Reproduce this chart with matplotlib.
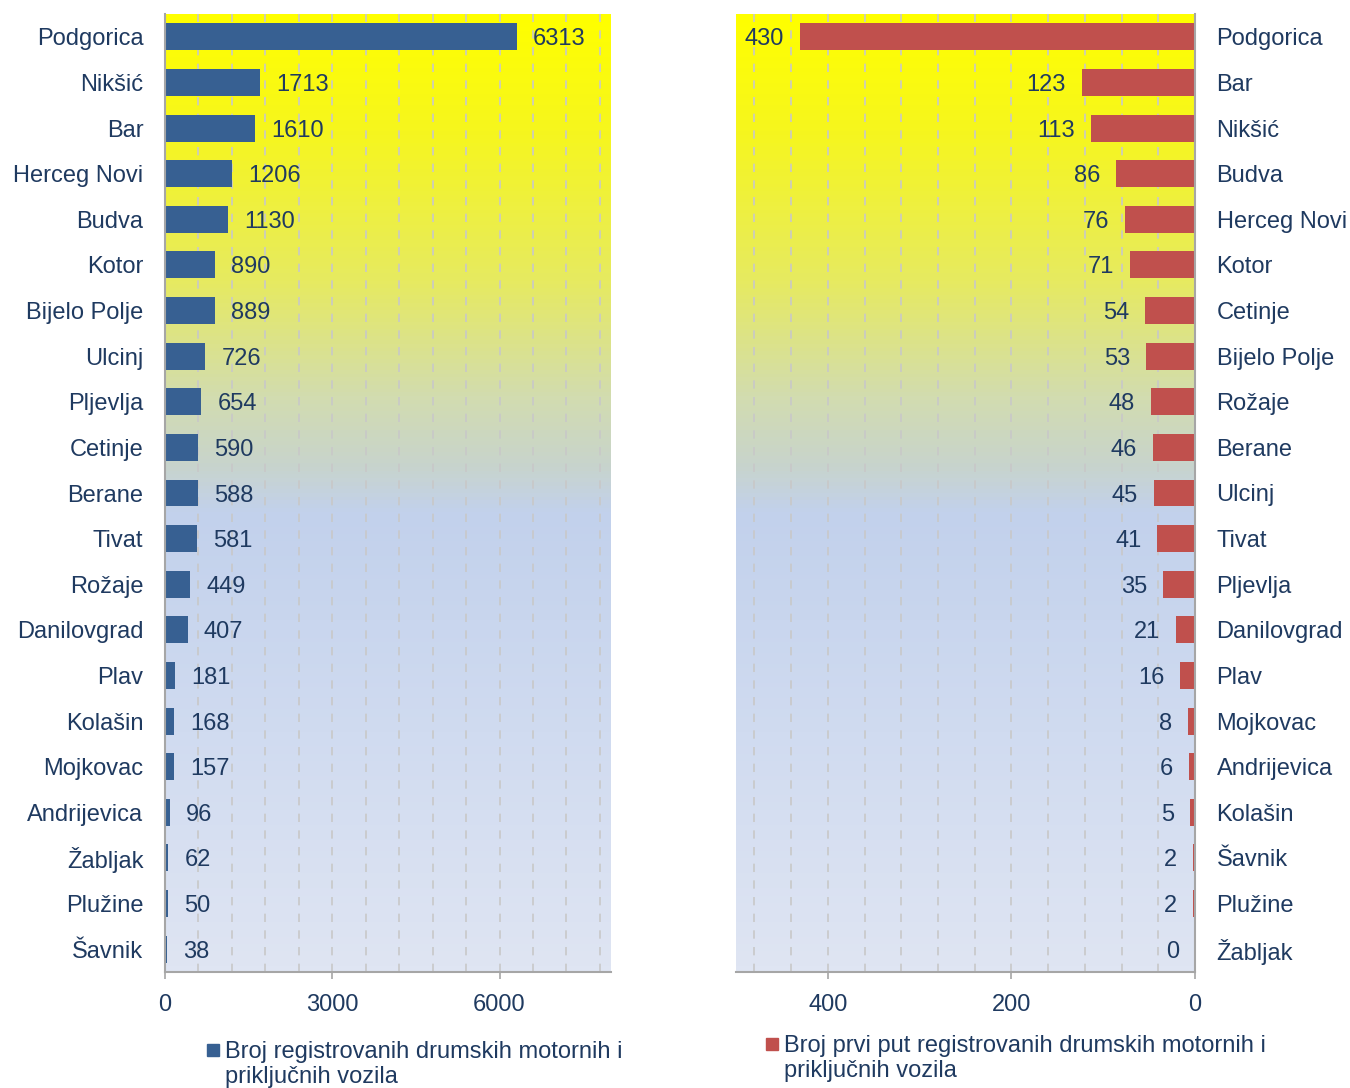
import numpy as np
import matplotlib
matplotlib.use("Agg")
import matplotlib.pyplot as plt
from matplotlib.colors import LinearSegmentedColormap
from matplotlib.ticker import MultipleLocator, FixedLocator
from matplotlib.patches import Rectangle

plt.rcParams['font.family'] = ['Liberation Sans', 'DejaVu Sans']

# ---- data ----
left_cities = ["Podgorica", "Nikšić", "Bar", "Herceg Novi", "Budva", "Kotor",
               "Bijelo Polje", "Ulcinj", "Pljevlja", "Cetinje", "Berane", "Tivat",
               "Rožaje", "Danilovgrad", "Plav", "Kolašin", "Mojkovac",
               "Andrijevica", "Žabljak", "Plužine", "Šavnik"]
left_values = [6313, 1713, 1610, 1206, 1130, 890, 889, 726, 654, 590, 588, 581,
               449, 407, 181, 168, 157, 96, 62, 50, 38]

right_cities = ["Podgorica", "Bar", "Nikšić", "Budva", "Herceg Novi", "Kotor",
                "Cetinje", "Bijelo Polje", "Rožaje", "Berane", "Ulcinj", "Tivat",
                "Pljevlja", "Danilovgrad", "Plav", "Mojkovac", "Andrijevica",
                "Kolašin", "Šavnik", "Plužine", "Žabljak"]
right_values = [430, 123, 113, 86, 76, 71, 54, 53, 48, 46, 45, 41, 35, 21, 16,
                8, 6, 5, 2, 2, 0]

left_ticks = [0, 3000, 6000]
right_ticks = [0, 200, 400]
left_legend = "Broj registrovanih drumskih motornih i\npriključnih vozila"
right_legend = "Broj prvi put registrovanih drumskih motornih i\npriključnih vozila"

# ---- style ----
TEXT = "#1F3A60"
BLUE = "#376092"
RED = "#C0504D"
SPINE = "#A6A6A6"
GRID = "#C8C8C8"
FS = 17

cmap = LinearSegmentedColormap.from_list("bg", [
    (0.00, "#FFFF00"),
    (0.12, "#F6F61E"),
    (0.28, "#E6EA62"),
    (0.40, "#D2DCB0"),
    (0.47, "#C8D4CC"),
    (0.52, "#C2D1EC"),
    (0.75, "#D0DBF0"),
    (1.00, "#DFE5F3"),
])
grad = np.linspace(0, 1, 256).reshape(-1, 1)

fig = plt.figure(figsize=(13.5, 10.88), dpi=100)
W, H = 1350, 1088
top, bot = 14, 972
axL = fig.add_axes([165 / W, 1 - bot / H, 446 / W, (bot - top) / H])
axR = fig.add_axes([736 / W, 1 - bot / H, 459 / W, (bot - top) / H])


def style(ax, cities, values, color, xmax, minor, ticks, side):
    n = len(cities)
    y = np.arange(n)
    ax.imshow(grad, cmap=cmap, extent=(0, 1, 0, 1), transform=ax.transAxes,
              aspect='auto', zorder=0, origin='upper', interpolation='bilinear')
    ax.barh(y, values, height=0.59, color=color, zorder=3)
    ax.set_ylim(n - 0.5, -0.5)
    if side == 'left':
        ax.set_xlim(0, xmax)
    else:
        ax.set_xlim(xmax, 0)
    ax.set_yticks(y)
    ax.set_yticklabels(cities, fontsize=FS, color=TEXT)
    ax.tick_params(axis='y', length=0, pad=15.5)
    if side == 'right':
        ax.yaxis.tick_right()
    for lab in ax.get_yticklabels():
        lab.set_verticalalignment('center_baseline')
    ax.xaxis.set_major_locator(FixedLocator(ticks))
    ax.xaxis.set_minor_locator(MultipleLocator(minor))
    ax.tick_params(axis='x', which='major', length=5, width=1.2, color=SPINE,
                   labelsize=FS, labelcolor=TEXT, pad=11)
    ax.tick_params(axis='x', which='minor', length=0)
    ax.grid(True, axis='x', which='both', color=GRID, linestyle=(0, (5, 5)),
            linewidth=1.2, zorder=1)
    ax.set_axisbelow(True)
    for s in ax.spines.values():
        s.set_visible(False)
    ax.spines['bottom'].set_visible(True)
    ax.spines['bottom'].set_color(SPINE)
    ax.spines['bottom'].set_linewidth(1.5)
    vs = 'left' if side == 'left' else 'right'
    ax.spines[vs].set_visible(True)
    ax.spines[vs].set_color(SPINE)
    ax.spines[vs].set_linewidth(1.5)
    ax.spines[vs].set_zorder(5)
    off = 16 if side == 'left' else -16
    ha = 'left' if side == 'left' else 'right'
    for i, v in enumerate(values):
        ax.annotate(str(v), xy=(v, i), xytext=(off, 0), textcoords='offset pixels',
                    ha=ha, va='center_baseline', fontsize=FS, color=TEXT, zorder=4)


style(axL, left_cities, left_values, BLUE, 8000, 600, left_ticks, 'left')
style(axR, right_cities, right_values, RED, 500, 40, right_ticks, 'right')


def legend(xbox, ybox, color, text):
    fig.patches.append(Rectangle((xbox / W, 1 - (ybox + 12) / H), 12 / W, 12 / H,
                                 transform=fig.transFigure, color=color))
    fig.text((xbox + 18) / W, 1 - (ybox - 3) / H, text, ha='left', va='top',
             fontsize=FS, color=TEXT, linespacing=1.2)


legend(207, 1044, BLUE, left_legend)
legend(766, 1038, RED, right_legend)

fig.savefig("out.png", dpi=100, facecolor='white')
